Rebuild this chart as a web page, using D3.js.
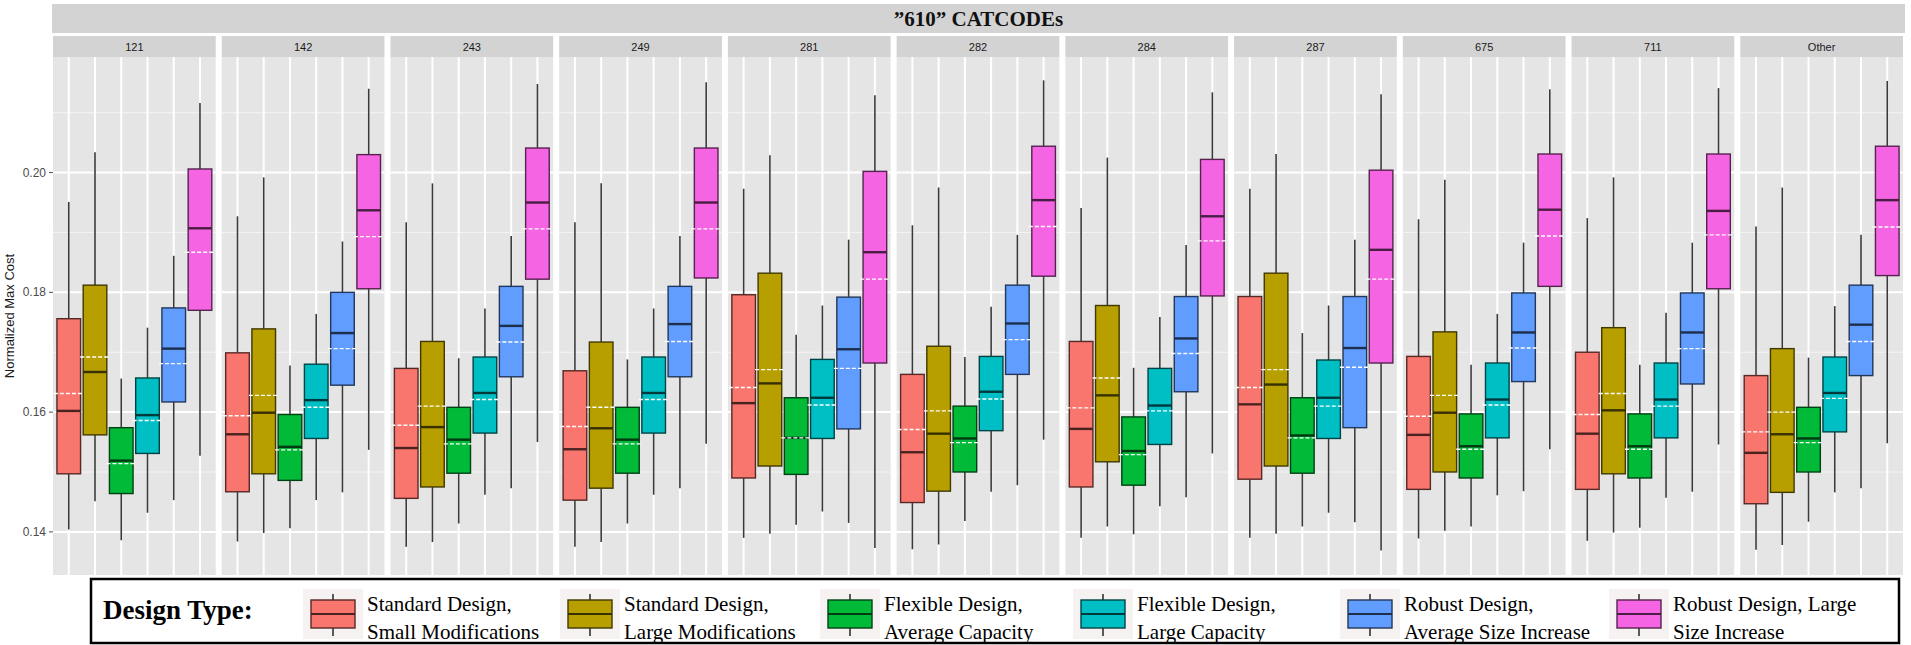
<!doctype html>
<html lang="en">
<head>
  <meta charset="utf-8">
  <title>"610" CATCODEs</title>
  <style>
   body {
       margin: 0;
       background-color: #ffffff;
       font-family: "Liberation Sans", Arial, sans-serif;
   }
   .strip-text {
       font-size: 11px;
       fill: #1a1a1a;
   }
   .tick-text {
       font-size: 12px;
       fill: #4d4d4d;
   }
   .serif {
       font-family: "Liberation Serif", "Times New Roman", serif;
   }
  </style>
</head>
<body>
  <svg id="chart" width="1911" height="645" xmlns="http://www.w3.org/2000/svg"></svg>
  <script src="https://d3js.org/d3.v7.min.js"></script>
  <script>

   // facets (CATCODE) and the six design types
   var panels = ["121", "142", "243", "249", "281", "282", "284", "287", "675", "711", "Other"];
   var designTypes = ["SD-SM", "SD-LM", "FD-AC", "FD-LC", "RD-AS", "RD-LS"];
   var designLabels = [
       ["Standard Design,", "Small Modifications"],
       ["Standard Design,", "Large Modifications"],
       ["Flexible Design,", "Average Capacity"],
       ["Flexible Design,", "Large Capacity"],
       ["Robust Design,", "Average Size Increase"],
       ["Robust Design, Large", "Size Increase"]
   ];
   var designColors = ["#F8766D", "#B79F00", "#00BA38", "#00BFC4", "#619CFF", "#F564E3"];
   var yTicks = [0.14, 0.16, 0.18, 0.20];
   var yMinor = [0.15, 0.17, 0.19, 0.21];

   // box statistics, one row per panel, one column per design type
   var whiskerLow = [
       [0.1404, 0.1451, 0.1386, 0.1432, 0.1453, 0.1527],
       [0.1384, 0.1398, 0.1406, 0.1453, 0.1466, 0.1537],
       [0.1375, 0.1383, 0.1414, 0.1462, 0.1473, 0.1550],
       [0.1375, 0.1383, 0.1414, 0.1462, 0.1473, 0.1547],
       [0.1390, 0.1397, 0.1412, 0.1434, 0.1415, 0.1373],
       [0.1371, 0.1379, 0.1418, 0.1467, 0.1478, 0.1554],
       [0.1390, 0.1409, 0.1396, 0.1443, 0.1458, 0.1531],
       [0.1390, 0.1397, 0.1409, 0.1432, 0.1416, 0.1369],
       [0.1389, 0.1402, 0.1409, 0.1461, 0.1468, 0.1538],
       [0.1385, 0.1399, 0.1407, 0.1457, 0.1467, 0.1546],
       [0.1370, 0.1378, 0.1417, 0.1466, 0.1473, 0.1548]
   ];
   var q1 = [
       [0.1497, 0.1562, 0.1464, 0.1531, 0.1617, 0.1770],
       [0.1467, 0.1497, 0.1486, 0.1556, 0.1645, 0.1806],
       [0.1456, 0.1475, 0.1498, 0.1565, 0.1659, 0.1822],
       [0.1453, 0.1473, 0.1498, 0.1565, 0.1659, 0.1824],
       [0.1490, 0.1510, 0.1496, 0.1556, 0.1572, 0.1682],
       [0.1449, 0.1468, 0.1500, 0.1569, 0.1663, 0.1827],
       [0.1475, 0.1517, 0.1478, 0.1546, 0.1634, 0.1794],
       [0.1488, 0.1510, 0.1498, 0.1556, 0.1574, 0.1682],
       [0.1471, 0.1500, 0.1490, 0.1557, 0.1651, 0.1810],
       [0.1471, 0.1497, 0.1490, 0.1557, 0.1647, 0.1806],
       [0.1447, 0.1466, 0.1500, 0.1567, 0.1661, 0.1828]
   ];
   var median = [
       [0.1602, 0.1667, 0.1519, 0.1595, 0.1706, 0.1907],
       [0.1563, 0.1599, 0.1542, 0.1620, 0.1732, 0.1937],
       [0.1540, 0.1575, 0.1554, 0.1632, 0.1744, 0.1950],
       [0.1538, 0.1573, 0.1554, 0.1632, 0.1747, 0.1950],
       [0.1615, 0.1648, 0.1557, 0.1624, 0.1705, 0.1867],
       [0.1533, 0.1564, 0.1556, 0.1634, 0.1748, 0.1954],
       [0.1572, 0.1628, 0.1535, 0.1611, 0.1723, 0.1927],
       [0.1613, 0.1646, 0.1561, 0.1624, 0.1707, 0.1871],
       [0.1562, 0.1599, 0.1543, 0.1621, 0.1733, 0.1938],
       [0.1564, 0.1603, 0.1543, 0.1621, 0.1733, 0.1936],
       [0.1532, 0.1563, 0.1556, 0.1632, 0.1746, 0.1954]
   ];
   var mean = [
       [0.1631, 0.1692, 0.1514, 0.1586, 0.1681, 0.1867],
       [0.1594, 0.1628, 0.1537, 0.1608, 0.1706, 0.1893],
       [0.1578, 0.1610, 0.1547, 0.1621, 0.1717, 0.1906],
       [0.1576, 0.1608, 0.1547, 0.1621, 0.1718, 0.1906],
       [0.1641, 0.1671, 0.1557, 0.1612, 0.1673, 0.1822],
       [0.1571, 0.1602, 0.1549, 0.1622, 0.1721, 0.1910],
       [0.1607, 0.1657, 0.1529, 0.1602, 0.1698, 0.1886],
       [0.1641, 0.1671, 0.1557, 0.1610, 0.1675, 0.1822],
       [0.1593, 0.1628, 0.1538, 0.1612, 0.1707, 0.1894],
       [0.1596, 0.1631, 0.1538, 0.1610, 0.1706, 0.1896],
       [0.1567, 0.1600, 0.1549, 0.1623, 0.1718, 0.1909]
   ];
   var q3 = [
       [0.1756, 0.1812, 0.1574, 0.1657, 0.1774, 0.2006],
       [0.1699, 0.1739, 0.1596, 0.1680, 0.1800, 0.2030],
       [0.1673, 0.1718, 0.1608, 0.1692, 0.1810, 0.2041],
       [0.1669, 0.1717, 0.1608, 0.1692, 0.1810, 0.2041],
       [0.1796, 0.1832, 0.1624, 0.1688, 0.1792, 0.2002],
       [0.1663, 0.1710, 0.1610, 0.1693, 0.1812, 0.2044],
       [0.1718, 0.1778, 0.1592, 0.1673, 0.1793, 0.2022],
       [0.1793, 0.1832, 0.1624, 0.1687, 0.1793, 0.2004],
       [0.1693, 0.1734, 0.1597, 0.1682, 0.1799, 0.2031],
       [0.1700, 0.1741, 0.1597, 0.1682, 0.1799, 0.2031],
       [0.1661, 0.1706, 0.1608, 0.1692, 0.1812, 0.2044]
   ];
   var whiskerHigh = [
       [0.1951, 0.2034, 0.1656, 0.1741, 0.1861, 0.2116],
       [0.1927, 0.1992, 0.1678, 0.1764, 0.1885, 0.2140],
       [0.1917, 0.1982, 0.1690, 0.1773, 0.1894, 0.2148],
       [0.1917, 0.1982, 0.1688, 0.1773, 0.1894, 0.2151],
       [0.1973, 0.2029, 0.1729, 0.1778, 0.1888, 0.2129],
       [0.1912, 0.1975, 0.1692, 0.1776, 0.1896, 0.2154],
       [0.1941, 0.2025, 0.1674, 0.1759, 0.1879, 0.2134],
       [0.1973, 0.2031, 0.1732, 0.1778, 0.1888, 0.2131],
       [0.1922, 0.1988, 0.1679, 0.1764, 0.1883, 0.2139],
       [0.1924, 0.1992, 0.1679, 0.1766, 0.1883, 0.2141],
       [0.1910, 0.1975, 0.1691, 0.1777, 0.1896, 0.2153]
   ];

   var svg = d3.select("#chart");

   var plotLeft = 53, plotRight = 1903, plotTop = 57, plotBottom = 575;
   var panelGap = 6;

   var panelX = d3.scaleBand()
       .domain(panels)
       .range([plotLeft, plotRight])
       .paddingInner(panelGap / ((plotRight - plotLeft + panelGap) / panels.length));
   var pw = panelX.bandwidth();

   var y = d3.scaleLinear().domain([0.1328, 0.2193]).range([plotBottom, plotTop]);

   var x = d3.scalePoint().domain(designTypes).range([0, pw]).padding(0.6);
   var boxW = x.step() * 0.9;

   function shade(c, t) { return d3.interpolateRgb(c, "#000000")(t); }

   // overall strip on top
   svg.append("rect")
      .attr("x", 52).attr("y", 4)
      .attr("width", 1853).attr("height", 29)
      .attr("fill", "#d4d3d4");
   svg.append("text")
      .attr("class", "serif")
      .attr("x", (52 + 1905) / 2).attr("y", 26)
      .attr("text-anchor", "middle")
      .attr("font-size", 21).attr("font-weight", "bold")
      .attr("fill", "#111")
      .text("\u201d610\u201d CATCODEs");

   panels.forEach(function(p, pi) {
       var g = svg.append("g").attr("transform", "translate(" + panelX(p) + ",0)");

       // strip
       g.append("rect")
        .attr("x", 0).attr("y", 36)
        .attr("width", pw).attr("height", 21)
        .attr("fill", "#d4d3d4");
       g.append("text")
        .attr("class", "strip-text")
        .attr("x", pw / 2).attr("y", 50.5)
        .attr("text-anchor", "middle")
        .text(p);

       // panel background and grid
       g.append("rect")
        .attr("x", 0).attr("y", plotTop)
        .attr("width", pw).attr("height", plotBottom - plotTop)
        .attr("fill", "#e5e5e5");
       g.selectAll("line.minor").data(yMinor).enter().append("line")
        .attr("x1", 0).attr("x2", pw)
        .attr("y1", function(d) { return y(d); }).attr("y2", function(d) { return y(d); })
        .attr("stroke", "#f4f4f4").attr("stroke-width", 1);
       g.selectAll("line.major").data(yTicks).enter().append("line")
        .attr("x1", 0).attr("x2", pw)
        .attr("y1", function(d) { return y(d); }).attr("y2", function(d) { return y(d); })
        .attr("stroke", "#ffffff").attr("stroke-width", 2);
       g.selectAll("line.vgrid").data(designTypes).enter().append("line")
        .attr("x1", function(d) { return x(d); }).attr("x2", function(d) { return x(d); })
        .attr("y1", plotTop).attr("y2", plotBottom)
        .attr("stroke", "#ffffff").attr("stroke-width", 2);

       // boxes
       designTypes.forEach(function(t, ti) {
           var cx = x(t);
           var col = designColors[ti];
           var bg = g.append("g");
           bg.append("line")
             .attr("x1", cx).attr("x2", cx)
             .attr("y1", y(whiskerHigh[pi][ti])).attr("y2", y(q3[pi][ti]))
             .attr("stroke", "#3a3a3a").attr("stroke-width", 1.6);
           bg.append("line")
             .attr("x1", cx).attr("x2", cx)
             .attr("y1", y(q1[pi][ti])).attr("y2", y(whiskerLow[pi][ti]))
             .attr("stroke", "#3a3a3a").attr("stroke-width", 1.6);
           bg.append("rect")
             .attr("x", cx - boxW / 2).attr("y", y(q3[pi][ti]))
             .attr("width", boxW).attr("height", y(q1[pi][ti]) - y(q3[pi][ti]))
             .attr("fill", col)
             .attr("stroke", shade(col, 0.65)).attr("stroke-width", 1.4);
           bg.append("line")
             .attr("x1", cx - boxW / 2).attr("x2", cx + boxW / 2)
             .attr("y1", y(median[pi][ti])).attr("y2", y(median[pi][ti]))
             .attr("stroke", shade(col, 0.7)).attr("stroke-width", 2.4);
           bg.append("line")
             .attr("x1", cx - boxW / 2 - 3).attr("x2", cx + boxW / 2 + 3)
             .attr("y1", y(mean[pi][ti])).attr("y2", y(mean[pi][ti]))
             .attr("stroke", "#ffffff").attr("stroke-width", 1.4)
             .attr("stroke-dasharray", "4,2");
       });
   });

   // y axis
   var yAxis = svg.append("g");
   yTicks.forEach(function(v) {
       yAxis.append("line")
            .attr("x1", plotLeft - 4).attr("x2", plotLeft)
            .attr("y1", y(v)).attr("y2", y(v))
            .attr("stroke", "#4d4d4d").attr("stroke-width", 1);
       yAxis.append("text")
            .attr("class", "tick-text")
            .attr("x", plotLeft - 7).attr("y", y(v) + 4)
            .attr("text-anchor", "end")
            .text(d3.format(".2f")(v));
   });
   svg.append("text")
      .attr("transform", "translate(14," + ((plotTop + plotBottom) / 2) + ") rotate(-90)")
      .attr("text-anchor", "middle")
      .attr("font-size", 13)
      .attr("fill", "#1a1a1a")
      .text("Normalized Max Cost");

   // legend
   var legend = svg.append("g");
   legend.append("rect")
         .attr("x", 91).attr("y", 579)
         .attr("width", 1808).attr("height", 64)
         .attr("fill", "#ffffff")
         .attr("stroke", "#000").attr("stroke-width", 2.5);
   legend.append("text")
         .attr("class", "serif")
         .attr("x", 103).attr("y", 619)
         .attr("font-size", 27).attr("font-weight", "bold")
         .attr("fill", "#000")
         .text("Design Type:");

   var keyX = [311, 568, 828, 1081, 1348, 1617];
   designTypes.forEach(function(t, ti) {
       var kx = keyX[ti];
       var col = designColors[ti];
       var k = legend.append("g").attr("transform", "translate(" + kx + ",0)");
       k.append("rect")
        .attr("x", -8).attr("y", 589).attr("width", 60).attr("height", 50)
        .attr("fill", "#f6f2f2");
       k.append("line")
        .attr("x1", 22).attr("x2", 22).attr("y1", 594).attr("y2", 636)
        .attr("stroke", "#333").attr("stroke-width", 1.6);
       k.append("rect")
        .attr("x", 0).attr("y", 600).attr("width", 44).attr("height", 28)
        .attr("fill", col)
        .attr("stroke", shade(col, 0.65)).attr("stroke-width", 1.4);
       k.append("line")
        .attr("x1", 0).attr("x2", 44).attr("y1", 614).attr("y2", 614)
        .attr("stroke", shade(col, 0.7)).attr("stroke-width", 2);
       designLabels[ti].forEach(function(line, li) {
           k.append("text")
            .attr("class", "serif")
            .attr("x", 56).attr("y", 611 + li * 28)
            .attr("font-size", 21)
            .attr("fill", "#000")
            .text(line);
       });
   });
  </script>
</body>
</html>
